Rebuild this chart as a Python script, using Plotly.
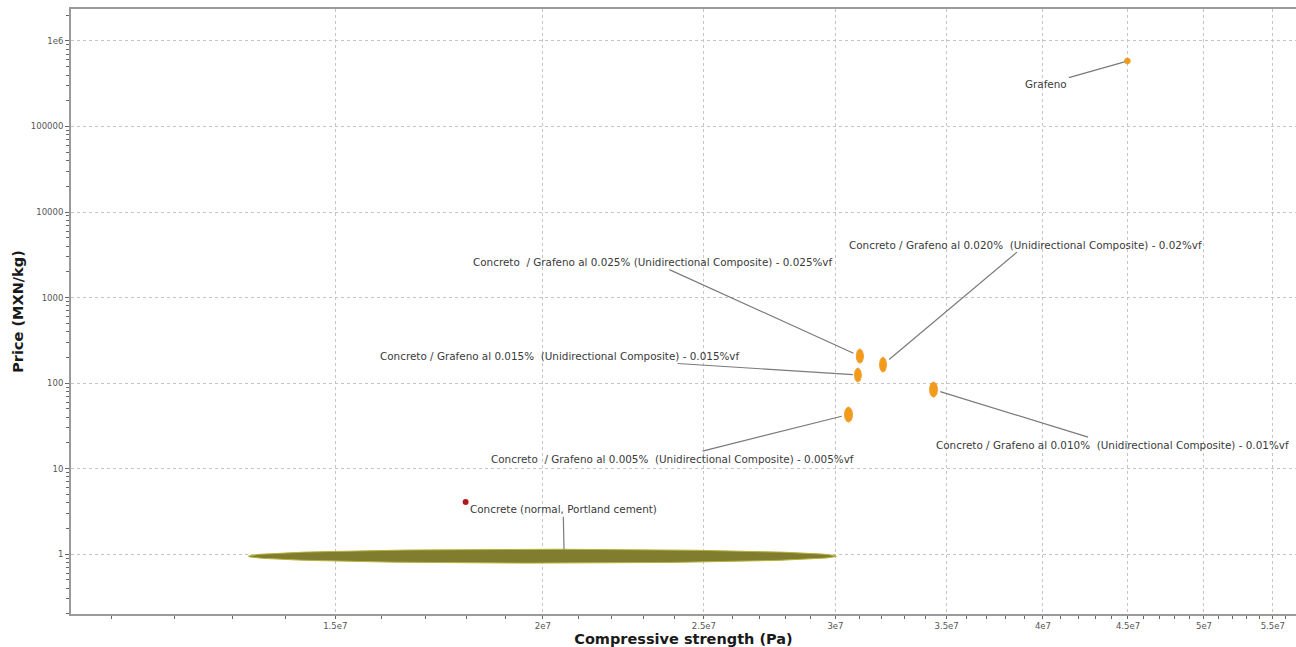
import numpy as np
import plotly.graph_objects as go

# Material bubbles: compressive strength range (Pa) and price range (MXN/kg)
materials = [
    "Grafeno",
    "Concreto  / Grafeno al 0.025% (Unidirectional Composite) - 0.025%vf",
    "Concreto / Grafeno al 0.020%  (Unidirectional Composite) - 0.02%vf",
    "Concreto / Grafeno al 0.015%  (Unidirectional Composite) - 0.015%vf",
    "Concreto / Grafeno al 0.010%  (Unidirectional Composite) - 0.01%vf",
    "Concreto  / Grafeno al 0.005%  (Unidirectional Composite) - 0.005%vf",
    "Concrete (normal, Portland cement)",
]
strength_lo = [4.478e7, 3.088e7, 3.189e7, 3.080e7, 3.418e7, 3.038e7, 1.33e7]
strength_hi = [4.515e7, 3.119e7, 3.220e7, 3.110e7, 3.456e7, 3.072e7, 3.004e7]
price_lo = [5.38e5, 171.0, 134.5, 103.0, 68.5, 35.0, 0.785]
price_hi = [6.32e5, 250.0, 201.0, 150.0, 103.0, 52.4, 1.14]

# Label placement (text offset in px from the bubble anchor)
label_dx = [-81, -207, 143, -298, 179, -176, -1]
label_dy = [23, -94, -120, -19, 55, 44, -47]
label_standoff = [3, 7, 8, 5, 7, 7, 7]
# Leader-line anchor for the concrete bubble sits right of its centre
anchor_strength = [None, None, None, None, None, None, 2.06e7]

fill_colors = ["#f39a1b"] * 6 + ["#807e2e"]
edge_colors = ["#f0a030"] * 6 + ["#b8b23a"]

# Small marker drawn next to the concrete label
tag_strength = [1.797e7]
tag_price = [4.06]

x_ticks = [1.5e7, 2e7, 2.5e7, 3e7, 3.5e7, 4e7, 4.5e7, 5e7, 5.5e7]
x_ticktext = ["1.5e7", "2e7", "2.5e7", "3e7", "3.5e7", "4e7", "4.5e7", "5e7", "5.5e7"]
y_ticks = [1, 10, 100, 1000, 10000, 100000, 1e6]
y_ticktext = ["1", "10", "100", "1000", "10000", "100000", "1e6"]

x_minor = [v * 1e6 for v in range(11, 57) if v % 5 != 0]
y_minor = [k * 10.0 ** n for n in range(-1, 7) for k in range(2, 10)]

fig = go.Figure()

t = np.linspace(0, 2 * np.pi, 181)
for i, name in enumerate(materials):
    lx0, lx1 = np.log10(strength_lo[i]), np.log10(strength_hi[i])
    ly0, ly1 = np.log10(price_lo[i]), np.log10(price_hi[i])
    cx, cy = (lx0 + lx1) / 2, (ly0 + ly1) / 2
    rx, ry = (lx1 - lx0) / 2, (ly1 - ly0) / 2
    fig.add_trace(go.Scatter(
        x=10 ** (cx + rx * np.cos(t)),
        y=10 ** (cy + ry * np.sin(t)),
        mode="lines", fill="toself",
        fillcolor=fill_colors[i],
        line=dict(color=edge_colors[i], width=1),
        name=name, hoverinfo="name", showlegend=False,
    ))
    ax_x = np.log10(anchor_strength[i]) if anchor_strength[i] else cx
    fig.add_annotation(
        x=ax_x, y=cy, xref="x", yref="y",
        text=name.replace("  ", "\u00a0\u00a0"),
        showarrow=True, arrowhead=0, arrowwidth=1.2, arrowcolor="#7a7a7a",
        ax=label_dx[i], ay=label_dy[i], standoff=label_standoff[i],
        font=dict(family="DejaVu Sans", size=10.4, color="#3a3a3a"),
    )

fig.add_trace(go.Scatter(
    x=tag_strength, y=tag_price, mode="markers",
    marker=dict(size=6, color="#b0181c", symbol="circle"),
    hoverinfo="skip", showlegend=False,
))

axis_common = dict(
    type="log",
    showline=True, linecolor="#9a9a9a", linewidth=2,
    showgrid=True, gridcolor="#c4c4c4", gridwidth=1, griddash="dot",
    zeroline=False,
    ticks="outside", tickcolor="#666", tickwidth=1,
    tickfont=dict(family="DejaVu Sans", size=8.5, color="#555"),
)

fig.update_xaxes(
    **axis_common,
    ticklen=3,
    range=[np.log10(1.04e7), np.log10(5.68e7)],
    tickmode="array", tickvals=x_ticks, ticktext=x_ticktext,
    minor=dict(tickmode="array", tickvals=x_minor, ticks="outside",
               ticklen=3, tickcolor="#666", showgrid=False),
    mirror=True,
    title=dict(text="<b>Compressive strength (Pa)</b>", standoff=5,
               font=dict(family="DejaVu Sans", size=14.5, color="#1a1a1a")),
)
fig.update_yaxes(
    **axis_common,
    ticklen=4,
    range=[-0.70, 6.374],
    tickmode="array", tickvals=y_ticks, ticktext=y_ticktext,
    minor=dict(tickmode="array", tickvals=y_minor, ticks="outside",
               ticklen=3, tickcolor="#666", showgrid=False),
    title=dict(text="<b>Price (MXN/kg)</b>", standoff=4,
               font=dict(family="DejaVu Sans", size=14.5, color="#1a1a1a")),
)

fig.update_layout(
    width=1296, height=647,
    margin=dict(l=71, r=0, t=9, b=33),
    paper_bgcolor="white", plot_bgcolor="white",
    showlegend=False,
)

fig.write_html("out.html")
